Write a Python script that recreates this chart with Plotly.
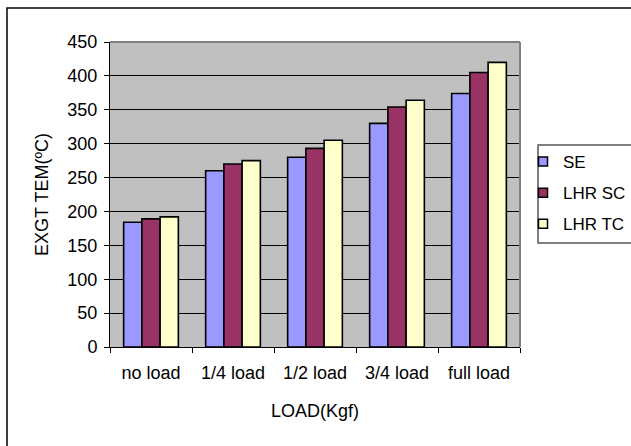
import plotly.graph_objects as go

# Exhaust gas temperature by engine load
loads = ["no load", "1/4 load", "1/2 load", "3/4 load", "full load"]
se = [184, 260, 280, 330, 374]
lhr_sc = [189, 270, 293, 354, 405]
lhr_tc = [192, 275, 305, 364, 420]

series = [
    ("SE", se, "#9999FF"),
    ("LHR SC", lhr_sc, "#993366"),
    ("LHR TC", lhr_tc, "#FFFFCC"),
]

FONT = "Liberation Sans, Arial, sans-serif"
FS = 18

fig = go.Figure()
for i, (name, vals, color) in enumerate(series):
    fig.add_trace(go.Bar(
        x=loads, y=vals, name=name, showlegend=False,
        marker=dict(color=color, line=dict(color="black", width=1.6)),
    ))
for i, (name, vals, color) in enumerate(series):
    # small square swatches for the legend
    fig.add_trace(go.Scatter(
        x=[None], y=[None], name=name, mode="markers",
        legendgroup=f"g{i}",
        marker=dict(symbol="square", size=9, color=color,
                    line=dict(color="black", width=1.5)),
    ))

fig.update_layout(
    width=631, height=446,
    margin=dict(l=110, r=111, t=42, b=99, autoexpand=False),
    paper_bgcolor="white",
    plot_bgcolor="#C0C0C0",
    barmode="group",
    bargap=0.333,
    bargroupgap=0,
    font=dict(family=FONT, size=FS, color="black"),
    showlegend=True,
    legend=dict(
        x=(523 - 110) / 410, xanchor="left",
        y=(347 - 144) / 305, yanchor="top",
        bgcolor="rgba(0,0,0,0)", borderwidth=0,
        font=dict(family=FONT, size=17),
        traceorder="grouped", tracegroupgap=6,
        itemwidth=30,
    ),
    xaxis=dict(
        type="category",
        showgrid=False,
        showline=True, linecolor="black", linewidth=1,
        ticks="outside", tickson="boundaries", ticklen=5, tickcolor="black",
        ticklabelstandoff=9,
        title=dict(text="LOAD(Kgf)", standoff=22, font=dict(size=FS)),
    ),
    yaxis=dict(
        range=[0, 450], dtick=50,
        showgrid=True, gridcolor="black", gridwidth=1,
        showline=True, linecolor="black", linewidth=1,
        ticks="outside", ticklen=5, tickcolor="black",
        ticklabelstandoff=3,
        zeroline=False,
        title=dict(text="EXGT TEM(ºC)", standoff=14, font=dict(size=FS)),
    ),
    shapes=[
        # top and right edges of the plot area
        dict(type="line", xref="paper", yref="paper", x0=0, x1=1, y0=1, y1=1,
             line=dict(color="#808080", width=2)),
        dict(type="line", xref="paper", yref="paper", x0=1, x1=1, y0=0, y1=1,
             line=dict(color="#808080", width=2)),
        # legend frame
        dict(type="rect", xref="paper", yref="paper",
             x0=(538 - 110) / 410, x1=1.5,
             y0=(347 - 243) / 305, y1=(347 - 145) / 305,
             line=dict(color="#555555", width=1.5)),
        # chart frame
        dict(type="rect", xref="paper", yref="paper",
             x0=(7 - 110) / 410, x1=2.0,
             y0=-1.0, y1=(347 - 8) / 305,
             line=dict(color="black", width=1.5)),
    ],
)

fig.write_html("out.html")
